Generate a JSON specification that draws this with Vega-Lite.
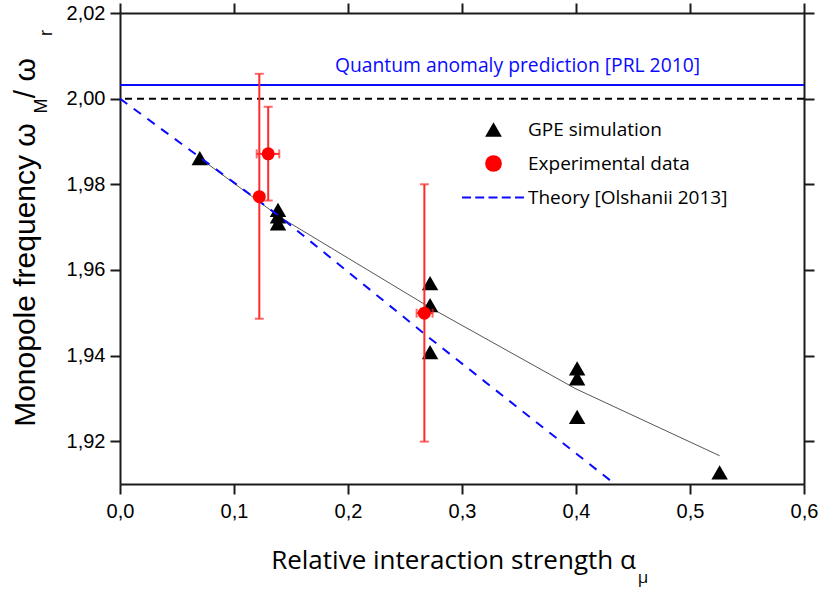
{
  "$schema": "https://vega.github.io/schema/vega-lite/v6.json",
  "width": 684,
  "height": 471,
  "autosize": {"type": "none"},
  "padding": {"left": 120, "top": 13, "right": 17, "bottom": 109},
  "background": "white",
  "config": {
    "view": {"stroke": null},
    "axis": {
      "domainColor": "#1a1a1a", "domainWidth": 2,
      "tickColor": "#1a1a1a", "tickWidth": 2, "tickSize": 10,
      "grid": false, "labelFlush": false, "labelOverlap": false,
      "labelFont": "Liberation Sans", "labelFontSize": 20, "labelColor": "black",
      "titleColor": "black", "titleFontWeight": "normal"
    }
  },
  "resolve": {"axis": {"x": "independent", "y": "independent"}},
  "datasets": {
    "pts": [
      {"alpha": 0.070, "freq": 1.9861, "series": "GPE simulation"},
      {"alpha": 0.1386, "freq": 1.9740, "series": "GPE simulation"},
      {"alpha": 0.1386, "freq": 1.9725, "series": "GPE simulation"},
      {"alpha": 0.1386, "freq": 1.9709, "series": "GPE simulation"},
      {"alpha": 0.272, "freq": 1.9569, "series": "GPE simulation"},
      {"alpha": 0.272, "freq": 1.9518, "series": "GPE simulation"},
      {"alpha": 0.272, "freq": 1.9408, "series": "GPE simulation"},
      {"alpha": 0.401, "freq": 1.9370, "series": "GPE simulation"},
      {"alpha": 0.401, "freq": 1.9347, "series": "GPE simulation"},
      {"alpha": 0.401, "freq": 1.9257, "series": "GPE simulation"},
      {"alpha": 0.526, "freq": 1.9127, "series": "GPE simulation"},
      {"alpha": 0.1222, "freq": 1.9771, "series": "Experimental data"},
      {"alpha": 0.130, "freq": 1.9871, "series": "Experimental data"},
      {"alpha": 0.267, "freq": 1.9499, "series": "Experimental data"}
    ],
    "errs": [
      {"alpha": 0.1222, "freq": 1.9771, "flo": 1.9486, "fhi": 2.0058, "alo": 0.1222, "ahi": 0.1222},
      {"alpha": 0.130, "freq": 1.9871, "flo": 1.9762, "fhi": 1.9981, "alo": 0.1199, "ahi": 0.1397},
      {"alpha": 0.267, "freq": 1.9499, "flo": 1.9199, "fhi": 1.9800, "alo": 0.2602, "ahi": 0.2742}
    ],
    "fit": [
      {"alpha": 0.070, "freq": 1.9861},
      {"alpha": 0.140, "freq": 1.9724},
      {"alpha": 0.272, "freq": 1.9512},
      {"alpha": 0.400, "freq": 1.9322},
      {"alpha": 0.526, "freq": 1.9166}
    ],
    "theory": [
      {"alpha": 0.0, "freq": 2.0},
      {"alpha": 0.07, "freq": 1.9863},
      {"alpha": 0.14, "freq": 1.9725},
      {"alpha": 0.272, "freq": 1.9440},
      {"alpha": 0.434, "freq": 1.91}
    ],
    "refs": [
      {"name": "anomaly", "freq": 2.0032},
      {"name": "classical", "freq": 2.0}
    ],
    "notes": [
      {"text": "Quantum anomaly prediction [PRL 2010]", "alpha": 0.3487, "freq": 2.0063}
    ],
    "subs": [
      {"text": "M", "alpha": -0.0684, "freq": 1.9983, "axis": "y"},
      {"text": "r", "alpha": -0.0640, "freq": 2.0153, "axis": "y"},
      {"text": "μ", "alpha": 0.4588, "freq": 1.8880, "axis": "x"}
    ]
  },
  "layer": [
    {
      "data": {"name": "fit"},
      "mark": {"type": "line", "color": "#555555", "strokeWidth": 1},
      "encoding": {
        "x": {"field": "alpha", "type": "quantitative",
              "scale": {"domain": [0, 0.6], "nice": false, "zero": false},
              "axis": {"orient": "bottom", "values": [0, 0.1, 0.2, 0.3, 0.4, 0.5, 0.6],
                       "labelExpr": "replace(format(datum.value, '.1f'), '.', ',')",
                       "labelFont": "Liberation Sans", "labelFontSize": 20, "labelFlush": false,
                       "labelPadding": 7,
                       "title": "Relative interaction strength α",
                       "titleFont": "Open Sans", "titleFontSize": 26, "titlePadding": 26, "titleX": 333}},
        "y": {"field": "freq", "type": "quantitative",
              "scale": {"domain": [1.91, 2.02], "nice": false, "zero": false},
              "axis": {"orient": "left", "values": [1.92, 1.94, 1.96, 1.98, 2.0, 2.02],
                       "labelExpr": "replace(format(datum.value, '.2f'), '.', ',')",
                       "labelFont": "Liberation Sans", "labelFontSize": 20, "labelFlush": false,
                       "labelPadding": 5,
                       "title": "Monopole frequency ω\u00a0\u00a0\u00a0/\u00a0ω",
                       "titleFont": "Liberation Sans", "titleFontSize": 30, "titlePadding": 26, "titleY": 229}}
      }
    },
    {
      "data": {"name": "refs"},
      "transform": [{"filter": "datum.name === 'anomaly'"}],
      "mark": {"type": "rule", "color": "#0a0aff", "strokeWidth": 2},
      "encoding": {
        "y": {"field": "freq", "type": "quantitative", "scale": {"domain": [1.91, 2.02], "nice": false, "zero": false}, "axis": null}
      }
    },
    {
      "data": {"name": "refs"},
      "transform": [{"filter": "datum.name === 'classical'"}],
      "mark": {"type": "rule", "color": "#000000", "strokeWidth": 2, "strokeDash": [7, 5]},
      "encoding": {
        "y": {"field": "freq", "type": "quantitative", "scale": {"domain": [1.91, 2.02], "nice": false, "zero": false}, "axis": null}
      }
    },
    {
      "data": {"name": "pts"},
      "transform": [{"filter": "datum.series === 'GPE simulation'"}],
      "mark": {"type": "point", "filled": true, "opacity": 1, "size": 272},
      "encoding": {
        "x": {"field": "alpha", "type": "quantitative", "scale": {"domain": [0, 0.6], "nice": false, "zero": false}, "axis": null},
        "y": {"field": "freq", "type": "quantitative", "scale": {"domain": [1.91, 2.02], "nice": false, "zero": false}, "axis": null},
        "color": {"field": "series", "type": "nominal",
                  "scale": {"domain": ["GPE simulation", "Experimental data", "Theory [Olshanii 2013]"], "range": ["#000000", "#ff0000", "#0a0aff"]},
                  "legend": {"orient": "none", "legendX": 364, "legendY": 107, "title": null, "symbolSize": 280,
                             "labelFont": "Open Sans", "labelFontSize": 19, "labelColor": "black", "labelOffset": 25, "labelLimit": 400,
                             "rowPadding": 14, "symbolStrokeWidth": 0, "padding": 0}},
        "shape": {"field": "series", "type": "nominal",
                  "scale": {"domain": ["GPE simulation", "Experimental data", "Theory [Olshanii 2013]"],
                            "range": ["triangle-up", "circle", "M-3.76,-0.12H-2.69V0.12H-3.76ZM-2.18,-0.12H-1.11V0.12H-2.18ZM-0.6,-0.12H0.48V0.12H-0.6ZM0.99,-0.12H2.06V0.12H0.99ZM2.57,-0.12H3.64V0.12H2.57Z"]},
                  "legend": {"orient": "none", "legendX": 364, "legendY": 107, "title": null, "symbolSize": 280,
                             "labelFont": "Open Sans", "labelFontSize": 19, "labelColor": "black", "labelOffset": 25, "labelLimit": 400,
                             "rowPadding": 14, "symbolStrokeWidth": 0, "padding": 0}}
      }
    },
    {
      "data": {"name": "theory"},
      "mark": {"type": "line", "color": "#0a0aff", "strokeWidth": 2, "strokeDash": [9, 8]},
      "encoding": {
        "x": {"field": "alpha", "type": "quantitative", "scale": {"domain": [0, 0.6], "nice": false, "zero": false},
              "axis": {"orient": "top", "values": [0, 0.1, 0.2, 0.3, 0.4, 0.5, 0.6], "labels": false, "title": null}},
        "y": {"field": "freq", "type": "quantitative", "scale": {"domain": [1.91, 2.02], "nice": false, "zero": false},
              "axis": {"orient": "right", "values": [1.92, 1.94, 1.96, 1.98, 2.0, 2.02], "labels": false, "title": null}}
      }
    },
    {
      "data": {"name": "errs"},
      "mark": {"type": "errorbar", "color": "#ff2a2a", "thickness": 2, "ticks": {"size": 9, "thickness": 2, "color": "#ff2a2a"}},
      "encoding": {
        "x": {"field": "alpha", "type": "quantitative", "scale": {"domain": [0, 0.6], "nice": false, "zero": false}, "axis": null},
        "y": {"field": "flo", "type": "quantitative", "scale": {"domain": [1.91, 2.02], "nice": false, "zero": false}, "axis": null},
        "y2": {"field": "fhi"}
      }
    },
    {
      "data": {"name": "errs"},
      "transform": [{"filter": "datum.ahi > datum.alo"}],
      "mark": {"type": "errorbar", "color": "#ff2a2a", "thickness": 2, "ticks": {"size": 9, "thickness": 2, "color": "#ff2a2a"}},
      "encoding": {
        "x": {"field": "alo", "type": "quantitative", "scale": {"domain": [0, 0.6], "nice": false, "zero": false}, "axis": null},
        "x2": {"field": "ahi"},
        "y": {"field": "freq", "type": "quantitative", "scale": {"domain": [1.91, 2.02], "nice": false, "zero": false}, "axis": null}
      }
    },
    {
      "data": {"name": "pts"},
      "transform": [{"filter": "datum.series === 'Experimental data'"}],
      "mark": {"type": "point", "filled": true, "opacity": 1, "size": 169},
      "encoding": {
        "x": {"field": "alpha", "type": "quantitative", "scale": {"domain": [0, 0.6], "nice": false, "zero": false}, "axis": null},
        "y": {"field": "freq", "type": "quantitative", "scale": {"domain": [1.91, 2.02], "nice": false, "zero": false}, "axis": null},
        "color": {"field": "series", "type": "nominal",
                  "scale": {"domain": ["GPE simulation", "Experimental data", "Theory [Olshanii 2013]"], "range": ["#000000", "#ff0000", "#0a0aff"]}},
        "shape": {"field": "series", "type": "nominal",
                  "scale": {"domain": ["GPE simulation", "Experimental data", "Theory [Olshanii 2013]"],
                            "range": ["triangle-up", "circle", "M-3.76,-0.12H-2.69V0.12H-3.76ZM-2.18,-0.12H-1.11V0.12H-2.18ZM-0.6,-0.12H0.48V0.12H-0.6ZM0.99,-0.12H2.06V0.12H0.99ZM2.57,-0.12H3.64V0.12H2.57Z"]}}
      }
    },
    {
      "data": {"name": "notes"},
      "mark": {"type": "text", "font": "Open Sans", "fontSize": 19.3, "color": "#0a0aff", "align": "center", "baseline": "alphabetic"},
      "encoding": {
        "x": {"field": "alpha", "type": "quantitative", "scale": {"domain": [0, 0.6], "nice": false, "zero": false}, "axis": null},
        "y": {"field": "freq", "type": "quantitative", "scale": {"domain": [1.91, 2.02], "nice": false, "zero": false}, "axis": null},
        "text": {"field": "text"}
      }
    },
    {
      "data": {"name": "subs"},
      "transform": [{"filter": "datum.axis === 'y'"}],
      "mark": {"type": "text", "font": "Liberation Sans", "fontSize": 18, "color": "black", "align": "center", "baseline": "middle", "angle": 270},
      "encoding": {
        "x": {"field": "alpha", "type": "quantitative", "scale": {"domain": [0, 0.6], "nice": false, "zero": false}, "axis": null},
        "y": {"field": "freq", "type": "quantitative", "scale": {"domain": [1.91, 2.02], "nice": false, "zero": false}, "axis": null},
        "text": {"field": "text"}
      }
    },
    {
      "data": {"name": "subs"},
      "transform": [{"filter": "datum.axis === 'x'"}],
      "mark": {"type": "text", "font": "Open Sans", "fontSize": 17, "color": "black", "align": "center", "baseline": "middle"},
      "encoding": {
        "x": {"field": "alpha", "type": "quantitative", "scale": {"domain": [0, 0.6], "nice": false, "zero": false}, "axis": null},
        "y": {"field": "freq", "type": "quantitative", "scale": {"domain": [1.91, 2.02], "nice": false, "zero": false}, "axis": null},
        "text": {"field": "text"}
      }
    }
  ]
}
